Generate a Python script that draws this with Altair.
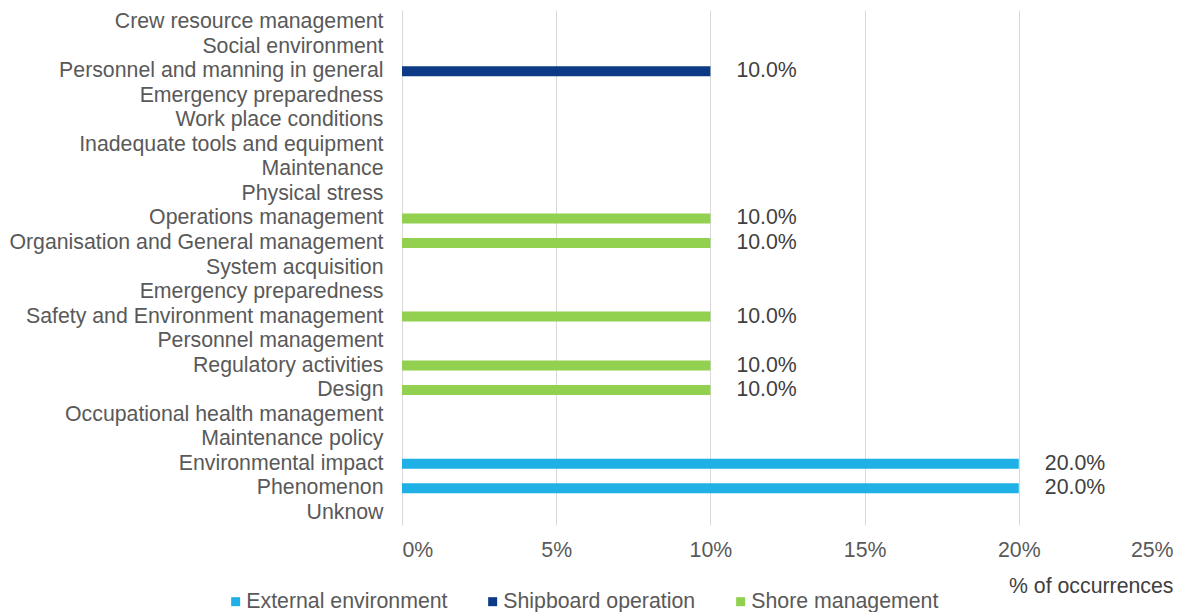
import json
import altair as alt
import pandas as pd

categories = [
    "Crew resource management", "Social environment", "Personnel and manning in general",
    "Emergency preparedness", "Work place conditions", "Inadequate tools and equipment",
    "Maintenance", "Physical stress", "Operations management",
    "Organisation and General management", "System acquisition", "Emergency preparedness",
    "Safety and Environment management", "Personnel management", "Regulatory activities",
    "Design", "Occupational health management", "Maintenance policy",
    "Environmental impact", "Phenomenon", "Unknow",
]
groups = (["Shipboard operation"] * 8 + ["Shore management"] * 10 + ["External environment"] * 3)
values = [0, 0, 0.10, 0, 0, 0, 0, 0,
          0.10, 0.10, 0, 0, 0.10, 0, 0.10, 0.10, 0, 0,
          0.20, 0.20, 0]
series = ["External environment", "Shipboard operation", "Shore management"]
colors = ["#1FB1E6", "#0D3A84", "#92D050"]
ticks = [0, 0.05, 0.10, 0.15, 0.20, 0.25]

df = pd.DataFrame({"idx": list(range(len(categories))), "cat": categories,
                   "group": groups, "value": values})

label_expr = json.dumps(categories) + "[datum.value]"
FONT = "Liberation Sans"
FS = 21.3

y = alt.Y("idx:O", title=None, sort="ascending",
          scale=alt.Scale(paddingInner=0, paddingOuter=0),
          axis=alt.Axis(labelExpr=label_expr, labelFontSize=FS, labelColor="#595959",
                        labelFont=FONT, labelLimit=600, labelPadding=19, ticks=False,
                        domain=False, grid=False))
x = alt.X("value:Q", scale=alt.Scale(domain=[0, 0.25], nice=False),
          axis=alt.Axis(values=ticks, format=".0%", labelFontSize=FS, labelColor="#595959",
                        labelFont=FONT, labelPadding=14, ticks=False, domain=False,
                        grid=True, gridColor="#D9D9D9", gridWidth=1,
                        title="% of occurrences", titleAnchor="end", titleAlign="right",
                        titleFontSize=FS, titleFontWeight="normal", titleColor="#404040",
                        titleFont=FONT, titlePadding=15))

bars = alt.Chart(df).mark_bar(size=10).encode(
    x=x, y=y,
    color=alt.Color("group:N", scale=alt.Scale(domain=series, range=colors),
                    legend=alt.Legend(title=None, orient="none", direction="horizontal",
                                      legendX=-181, legendY=581, symbolType="square",
                                      symbolSize=81, symbolStrokeWidth=0, padding=0,
                                      symbolOffset=4,
                                      labelFontSize=FS, labelColor="#595959", labelFont=FONT,
                                      labelOffset=0, columnPadding=30, labelLimit=400)),
)
text = alt.Chart(df).transform_filter("datum.value > 0").mark_text(
    align="left", baseline="middle", dx=26, fontSize=FS, color="#404040", font=FONT
).encode(x="value:Q", y=alt.Y("idx:O", sort="ascending"), text=alt.Text("value:Q", format=".1%"))

chart = (bars + text).properties(
    width=771, height=515,
    padding={"top": 2, "left": 0, "right": 0, "bottom": 0},
).configure_view(stroke=None)
chart.save("out.html", embed_options={"renderer": "svg", "actions": False})
